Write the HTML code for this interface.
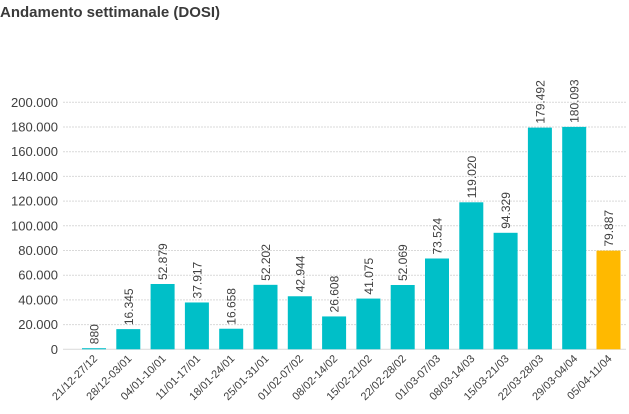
<!DOCTYPE html>
<html><head><meta charset="utf-8"><style>
body{margin:0;background:#fff;width:629px;height:409px;overflow:hidden;font-family:"Liberation Sans",sans-serif}
</style></head><body>
<svg id="chart" width="629" height="409" xmlns="http://www.w3.org/2000/svg">
<text x="0" y="17" font-size="15" font-weight="bold" fill="#3a3a3a">Andamento settimanale (DOSI)</text>
<g id="grid"></g><g id="bars"></g>
</svg>
<script>
const categories=["21/12-27/12","28/12-03/01","04/01-10/01","11/01-17/01","18/01-24/01","25/01-31/01","01/02-07/02","08/02-14/02","15/02-21/02","22/02-28/02","01/03-07/03","08/03-14/03","15/03-21/03","22/03-28/03","29/03-04/04","05/04-11/04"];
const values=[880,16345,52879,37917,16658,52202,42944,26608,41075,52069,73524,119020,94329,179492,180093,79887];
const valueLabels=["880","16.345","52.879","37.917","16.658","52.202","42.944","26.608","41.075","52.069","73.524","119.020","94.329","179.492","180.093","79.887"];
const yTicks=[0,20000,40000,60000,80000,100000,120000,140000,160000,180000,200000];
const yTickLabels=["0","20.000","40.000","60.000","80.000","100.000","120.000","140.000","160.000","180.000","200.000"];
const NS="http://www.w3.org/2000/svg";
const y0=349.3,yTop=102.3,yMax=200000;
const y=v=>y0-(v/yMax)*(y0-yTop);
const x=i=>94+i*34.3;
const bw=24;
const grid=document.getElementById('grid'),bars=document.getElementById('bars');
function mk(t,a,p){const e=document.createElementNS(NS,t);for(const k in a)e.setAttribute(k,a[k]);p.appendChild(e);return e;}
yTicks.forEach((v,i)=>{
 const l=mk('line',{x1:63,x2:626,y1:y(v),y2:y(v),stroke:'#d9d9d9','stroke-width':1,'stroke-dasharray':v===0?'':'2,1'},grid);
 
 
 const t=mk('text',{x:58,y:y(v)+4.5,'text-anchor':'end','font-size':13,fill:'#404040'},grid);
 t.textContent=yTickLabels[i];
 
 
});
values.forEach((v,i)=>{
 const r=mk('rect',{x:x(i)-bw/2,y:y(v),width:bw,height:y0-y(v),fill:i===values.length-1?'#ffb900':'#00bfc8'},bars);
 
 
 const t=mk('text',{transform:`translate(${x(i)+4.5},${y(v)-4}) rotate(-90)`,'font-size':12,fill:'#404040'},bars);
 t.textContent=valueLabels[i];
 
 
 const c=mk('text',{transform:`translate(${x(i)+4},${y0+10}) rotate(-45)`,'text-anchor':'end','font-size':11,fill:'#404040'},bars);
 c.textContent=categories[i];
 
 
});
</script>
</body></html>
